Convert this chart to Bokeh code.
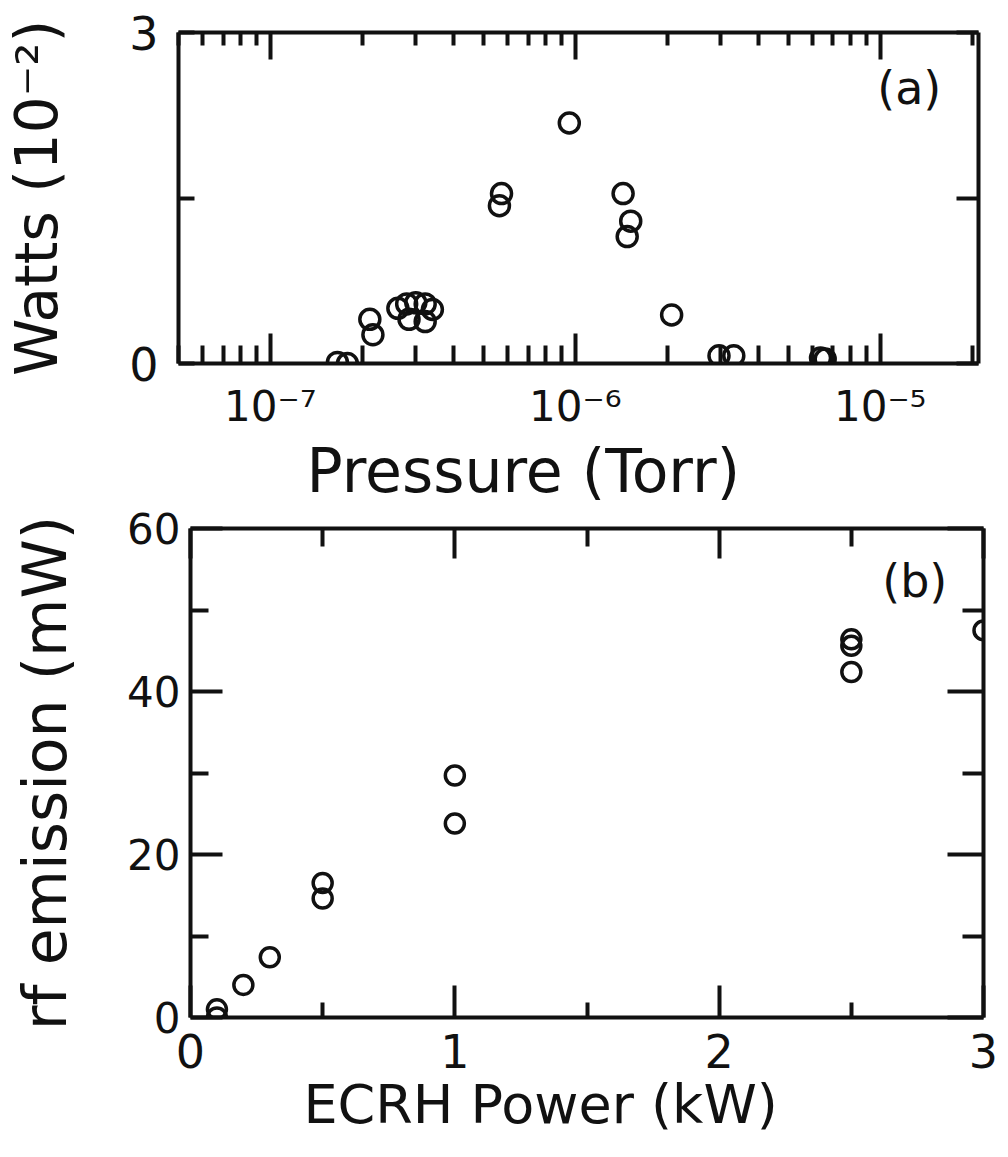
from bokeh.plotting import figure
from bokeh.models import (FixedTicker, LinearAxis, LogAxis, Label, Range1d,
                          CustomJSTickFormatter, Title)
from bokeh.embed import file_html
from bokeh.resources import INLINE

# ---------------- data ----------------
# panel (a): emitted power vs pressure
pressure_torr = [1.66e-7, 1.79e-7, 2.12e-7, 2.17e-7,
                 2.62e-7, 2.80e-7, 3.00e-7, 3.22e-7, 3.40e-7, 2.85e-7, 3.22e-7,
                 5.73e-7, 5.64e-7, 9.56e-7,
                 1.435e-6, 1.52e-6, 1.48e-6, 2.07e-6,
                 2.96e-6, 3.31e-6, 6.37e-6, 6.60e-6]
watts_e2 = [0.01, 0.0, 0.40, 0.26,
            0.50, 0.54, 0.55, 0.54, 0.49, 0.40, 0.38,
            1.54, 1.43, 2.18,
            1.54, 1.29, 1.15, 0.44,
            0.07, 0.07, 0.05, 0.04]

# panel (b): rf emission vs ECRH power
ecrh_kw = [0.1, 0.1, 0.2, 0.3, 0.5, 0.5, 1.0, 1.0, 2.5, 2.5, 2.5, 3.0]
rf_mw = [1.0, 0.0, 4.0, 7.4, 16.5, 14.6, 29.7, 23.8, 46.4, 45.6, 42.4, 47.5]

# tick definitions
a_x_major = [1e-7, 1e-6, 1e-5]
a_x_exponents = ["\u207b\u2077", "\u207b\u2076", "\u207b\u2075"]
a_x_minor = [5e-8, 6e-8, 7e-8, 8e-8, 9e-8,
             2e-7, 3e-7, 4e-7, 5e-7, 6e-7, 7e-7, 8e-7, 9e-7,
             2e-6, 3e-6, 4e-6, 5e-6, 6e-6, 7e-6, 8e-6, 9e-6, 2e-5]
a_y_major = [0, 3]
a_y_minor = [1.5]
b_x_major = [0, 1, 2, 3]
b_x_minor = [0.5, 1.5, 2.5]
b_y_major = [0, 20, 40, 60]
b_y_minor = [10, 30, 50]

# titles
a_x_title = "Pressure (Torr)"
a_y_title = "Watts (10\u207b\u00b2)"
b_x_title = "ECRH Power (kW)"
b_y_title = "rf emission (mW)"

FONT = "DejaVu Sans"
INK = "#111111"


def style_axis(ax, tin, min_in, lw=4):
    ax.axis_line_width = lw
    ax.axis_line_color = INK
    ax.major_tick_line_width = lw
    ax.minor_tick_line_width = lw
    ax.major_tick_line_color = INK
    ax.minor_tick_line_color = INK
    ax.major_tick_in = tin
    ax.major_tick_out = 0
    ax.minor_tick_in = min_in
    ax.minor_tick_out = 0
    ax.major_label_text_font = FONT
    ax.major_label_text_color = INK
    ax.axis_label_text_font = FONT
    ax.axis_label_text_font_style = "normal"
    ax.axis_label_text_color = INK


def hide_labels(ax):
    ax.formatter = CustomJSTickFormatter(code="return ''")
    ax.major_label_text_font_size = "8px"
    ax.major_label_standoff = 0


def panel_tag(p, x, y, text):
    p.add_layout(Label(x=x, y=y, text=text, text_font=FONT,
                       text_font_size="46px", text_align="center",
                       text_baseline="middle", text_color=INK))


def x_title(p, text, size, offset):
    p.add_layout(Title(text=text, align="left", offset=offset,
                       text_font=FONT, text_font_size=size,
                       text_font_style="normal", text_color=INK,
                       standoff=0), "below")


# ---------------- panel (a) ----------------
pa = figure(width=1008, height=505, x_axis_type="log",
            x_range=Range1d(5e-8, 2.1e-5), y_range=Range1d(0, 3),
            output_backend="svg", toolbar_location=None,
            min_border_left=177, min_border_right=30,
            min_border_top=32, min_border_bottom=141)
pa.grid.visible = False
pa.outline_line_color = None
pa.background_fill_color = "white"
pa.border_fill_color = "white"

xa = pa.xaxis[0]
xa.ticker = FixedTicker(ticks=a_x_major, minor_ticks=a_x_minor)
xa.formatter = CustomJSTickFormatter(
    args=dict(exps=a_x_exponents),
    code="const i = Math.round(Math.log10(tick)) + 7; return '10' + exps[i];")
style_axis(xa, 30, 18)
xa.major_label_text_font_size = "42px"
xa.major_label_standoff = 18

ya = pa.yaxis[0]
ya.ticker = FixedTicker(ticks=a_y_major, minor_ticks=a_y_minor)
style_axis(ya, 16, 16)
ya.major_label_text_font_size = "46px"
ya.major_label_standoff = 20
ya.axis_label = a_y_title
ya.axis_label_text_font_size = "58px"
ya.axis_label_standoff = 55

top_a = LogAxis(ticker=FixedTicker(ticks=a_x_major, minor_ticks=a_x_minor))
style_axis(top_a, 27, 13)
hide_labels(top_a)
pa.add_layout(top_a, "above")

right_a = LinearAxis(ticker=FixedTicker(ticks=a_y_major, minor_ticks=a_y_minor))
style_axis(right_a, 22, 22)
hide_labels(right_a)
pa.add_layout(right_a, "right")

pa.scatter(pressure_torr, watts_e2, marker="circle", size=20,
           fill_alpha=0, line_color=INK, line_width=3.5)
panel_tag(pa, 1.245e-5, 2.5, "(a)")
x_title(pa, a_x_title, "60px", 128)

# ---------------- panel (b) ----------------
pb = figure(width=1008, height=652,
            x_range=Range1d(0, 3), y_range=Range1d(0, 60),
            output_backend="svg", toolbar_location=None,
            min_border_left=190, min_border_right=25,
            min_border_top=23, min_border_bottom=140)
pb.grid.visible = False
pb.outline_line_color = None
pb.background_fill_color = "white"
pb.border_fill_color = "white"

xb = pb.xaxis[0]
xb.ticker = FixedTicker(ticks=b_x_major, minor_ticks=b_x_minor)
style_axis(xb, 32, 15)
xb.major_label_text_font_size = "46px"
xb.major_label_standoff = 16
xb.major_label_text_font_size = "46px"

yb = pb.yaxis[0]
yb.ticker = FixedTicker(ticks=b_y_major, minor_ticks=b_y_minor)
style_axis(yb, 32, 18)
yb.major_label_text_font_size = "42px"
yb.major_label_standoff = 10
yb.axis_label = b_y_title
yb.axis_label_text_font_size = "60px"
yb.axis_label_standoff = 44

top_b = LinearAxis(ticker=FixedTicker(ticks=b_x_major, minor_ticks=b_x_minor))
style_axis(top_b, 30, 18)
hide_labels(top_b)
pb.add_layout(top_b, "above")

right_b = LinearAxis(ticker=FixedTicker(ticks=b_y_major, minor_ticks=b_y_minor))
style_axis(right_b, 36, 21)
hide_labels(right_b)
pb.add_layout(right_b, "right")

pb.scatter(ecrh_kw, rf_mw, marker="circle", size=19,
           fill_alpha=0, line_color=INK, line_width=3.5)
panel_tag(pb, 2.74, 53.5, "(b)")
x_title(pb, b_x_title, "54px", 113)

open("out.html", "w").write(file_html([pa, pb], INLINE))
